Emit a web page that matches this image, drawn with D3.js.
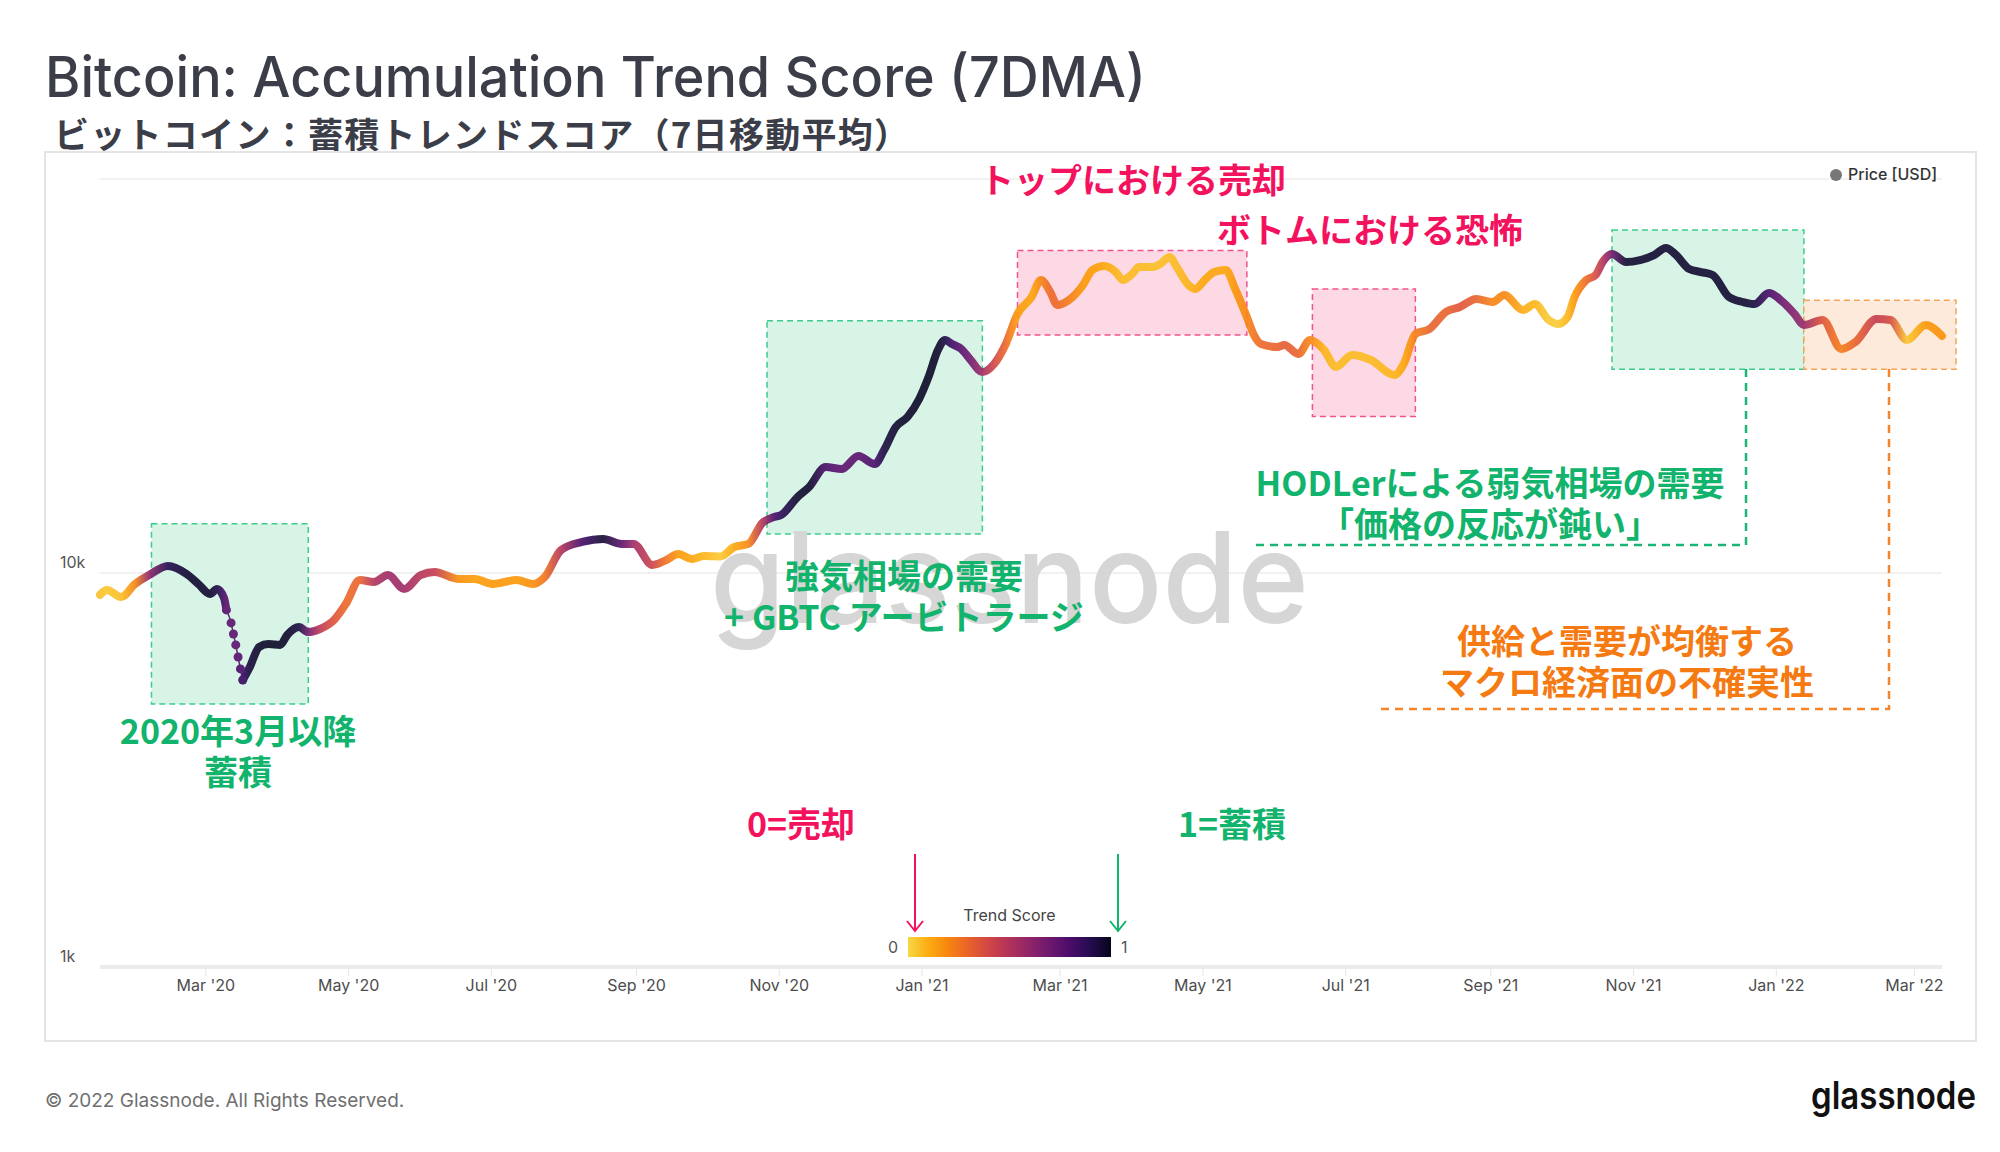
<!DOCTYPE html>
<html>
<head>
<meta charset="utf-8">
<script src="https://cdn.jsdelivr.net/npm/d3@7"></script>
<style>
  body { margin: 0; background: #fff; }
  svg { display: block; }
</style>
</head>
<body>
<script>
// 7DMA price and trend score
let dates = [
  "2020-01-16","2020-01-19","2020-01-25","2020-01-31","2020-02-06","2020-02-14","2020-02-22","2020-02-27",
  "2020-03-03","2020-03-06","2020-03-09","2020-03-10","2020-03-12","2020-03-13","2020-03-14","2020-03-15",
  "2020-03-16","2020-03-17","2020-03-20","2020-03-24","2020-03-28","2020-04-02","2020-04-05","2020-04-10",
  "2020-04-14","2020-04-19","2020-04-25","2020-04-30","2020-05-06","2020-05-12","2020-05-18","2020-05-25",
  "2020-06-01","2020-06-07","2020-06-17","2020-06-24","2020-07-02","2020-07-12","2020-07-19","2020-07-24",
  "2020-07-31","2020-08-09","2020-08-18","2020-08-26","2020-08-31","2020-09-08","2020-09-14","2020-09-19",
  "2020-09-25","2020-09-30","2020-10-07","2020-10-13","2020-10-19","2020-10-25","2020-10-30","2020-11-02",
  "2020-11-09","2020-11-14","2020-11-21","2020-11-28","2020-12-05","2020-12-12","2020-12-16","2020-12-21",
  "2020-12-26","2020-12-31","2021-01-04","2021-01-08","2021-01-11","2021-01-14","2021-01-18","2021-01-22",
  "2021-01-27","2021-02-01","2021-02-06","2021-02-11","2021-02-17","2021-02-21","2021-02-25","2021-02-28",
  "2021-03-05","2021-03-11","2021-03-15","2021-03-20","2021-03-25","2021-03-28","2021-04-01","2021-04-04",
  "2021-04-10","2021-04-13","2021-04-17","2021-04-20","2021-04-25","2021-04-28","2021-05-02","2021-05-06",
  "2021-05-11","2021-05-15","2021-05-20","2021-05-23","2021-05-26","2021-06-02","2021-06-05","2021-06-11",
  "2021-06-16","2021-06-22","2021-06-27","2021-07-04","2021-07-12","2021-07-22","2021-07-26","2021-07-31",
  "2021-08-06","2021-08-13","2021-08-19","2021-08-26","2021-09-02","2021-09-07","2021-09-15","2021-09-20",
  "2021-09-26","2021-09-30","2021-10-04","2021-10-07","2021-10-12","2021-10-16","2021-10-19","2021-10-23",
  "2021-10-29","2021-11-04","2021-11-10","2021-11-15","2021-11-19","2021-11-25","2021-11-30","2021-12-05",
  "2021-12-12","2021-12-18","2021-12-23","2021-12-29","2022-01-04","2022-01-09","2022-01-13","2022-01-21",
  "2022-01-29","2022-02-04","2022-02-13","2022-02-19","2022-02-26","2022-03-06","2022-03-13"
];
let prices = [
  8800, 9050, 8690, 9380, 9880, 10420, 9940, 9380,
  8850, 9110, 8640, 8060, 7470, 7000, 6570, 6120,
  5710, 5350, 5770, 6490, 6600, 6570, 6960, 7290,
  7080, 7210, 7600, 8340, 9600, 9490, 9880, 9110,
  9880, 10060, 9660, 9660, 9380, 9600, 9380, 9770,
  11440, 11990, 12200, 11850, 11850, 10480, 10790, 11170,
  10850, 11040, 11020, 11640, 11850, 13400, 13870, 14030,
  15590, 16530, 18580, 18370, 19820, 18910, 20520, 23480,
  24890, 27650, 31450, 36810, 39030, 38130, 37030, 34720,
  32370, 33920, 38130, 45430, 50170, 55410, 51660, 47890,
  49310, 53830, 58760, 60150, 58070, 55410, 57400, 59780,
  59780, 60850, 63390, 59780, 53830, 52580, 55410, 58070,
  58760, 52580, 44630, 40180, 38130, 37470, 37910, 35960,
  39030, 36810, 33330, 35760, 34720, 31810, 33920, 40420,
  41620, 45960, 47330, 49600, 48730, 50760, 46510, 48170,
  43860, 42850, 44630, 50170, 55410, 57060, 61550, 64490,
  61550, 62280, 64120, 66840, 64490, 59110, 58070, 57060,
  50170, 48730, 48170, 51360, 48730, 45430, 42600, 43860,
  37030, 38580, 44130, 43860, 39030, 42600, 39950
];
let scores = [
  0.05, 0.04, 0.06, 0.20, 0.60, 0.90, 0.96, 0.96,
  0.96, 0.92, 0.80, 0.76, 0.75, 0.75, 0.75, 0.76,
  0.80, 0.85, 0.94, 0.97, 0.98, 0.98, 0.97, 0.93,
  0.68, 0.47, 0.35, 0.28, 0.30, 0.50, 0.56, 0.56,
  0.48, 0.45, 0.18, 0.14, 0.15, 0.15, 0.18, 0.25,
  0.50, 0.82, 0.96, 0.75, 0.55, 0.42, 0.25, 0.15,
  0.12, 0.08, 0.04, 0.12, 0.20, 0.50, 0.80, 0.88,
  0.96, 0.97, 0.80, 0.75, 0.75, 0.80, 0.93, 0.96,
  0.97, 0.98, 0.98, 0.97, 0.93, 0.82, 0.75, 0.68,
  0.55, 0.40, 0.28, 0.14, 0.12, 0.20, 0.28, 0.28,
  0.22, 0.15, 0.14, 0.12, 0.08, 0.07, 0.07, 0.07,
  0.06, 0.06, 0.06, 0.07, 0.08, 0.10, 0.12, 0.12,
  0.12, 0.16, 0.20, 0.25, 0.28, 0.30, 0.32, 0.30,
  0.20, 0.08, 0.07, 0.07, 0.07, 0.08, 0.12, 0.22,
  0.30, 0.30, 0.35, 0.30, 0.20, 0.20, 0.10, 0.08,
  0.03, 0.03, 0.08, 0.15, 0.28, 0.38, 0.50, 0.70,
  0.96, 0.96, 0.96, 0.96, 0.96, 0.96, 0.96, 0.96,
  0.96, 0.96, 0.93, 0.80, 0.70, 0.62, 0.58, 0.35,
  0.22, 0.30, 0.45, 0.38, 0.04, 0.15, 0.17
];

let xTicks = ["2020-03-01","2020-05-01","2020-07-01","2020-09-01","2020-11-01","2021-01-01",
              "2021-03-01","2021-05-01","2021-07-01","2021-09-01","2021-11-01","2022-01-01","2022-03-01"];
let yGrid = [1000, 10000, 100000];
let yLabels = [1000, 10000];

// crash days drawn as separate dots
let crashFrom = "2020-03-10";
let crashTo = "2020-03-17";

// highlighted periods: date range and price range
let boxes = [
  {from: "2020-02-07", to: "2020-04-14", hi: 13330, lo: 4650, kind: "green"},
  {from: "2020-10-27", to: "2021-01-27", hi: 43650, lo: 12560, kind: "green"},
  {from: "2021-02-11", to: "2021-05-20", hi: 65800, lo: 40200, kind: "pink"},
  {from: "2021-06-17", to: "2021-07-31", hi: 52600, lo: 24960, kind: "pink"},
  {from: "2021-10-23", to: "2022-01-13", hi: 74200, lo: 32900, kind: "green"},
  {from: "2022-01-13", to: "2022-03-19", hi: 49200, lo: 32900, kind: "orange"}
];

let width = 2000;
let height = 1152;

let palette = {
  green: {fill: "#d8f4e7", stroke: "#3ccd8c", text: "#12b36c"},
  pink: {fill: "#fdd9e6", stroke: "#f2538c", text: "#f3125e"},
  orange: {fill: "#fdeadb", stroke: "#f6a45a", text: "#f57a12"}
};

let notes = [
  {lines: ["2020年3月以降", "蓄積"], x: 238, y: 732, kind: "green"},
  {lines: ["強気相場の需要", "+ GBTC アービトラージ"], x: 904, y: 577, kind: "green"},
  {lines: ["トップにおける売却"], x: 1133, y: 181, kind: "pink"},
  {lines: ["ボトムにおける恐怖"], x: 1370, y: 231, kind: "pink"},
  {lines: ["HODLerによる弱気相場の需要", "「価格の反応が鈍い」"], x: 1490, y: 484, kind: "green"},
  {lines: ["供給と需要が均衡する", "マクロ経済面の不確実性"], x: 1627, y: 642, kind: "orange"},
  {lines: ["0=売却"], x: 801, y: 825, kind: "pink"},
  {lines: ["1=蓄積"], x: 1232, y: 825, kind: "green"}
];

let parse = d3.utcParse("%Y-%m-%d");
let data = dates.map((d, i) => ({date: parse(d), price: prices[i], score: scores[i]}));

let x = d3.scaleUtc().domain([data[0].date, data[data.length - 1].date]).range([100, 1942]);
let y = d3.scaleLog().domain([1000, 100000]).range([967, 179]);
let color = (t) => d3.interpolateInferno(0.9 - 0.85 * t);

let svg = d3.select("body").append("svg").attr("width", width).attr("height", height);
let defs = svg.append("defs");

// titles
svg.append("text").attr("x", 45).attr("y", 97)
  .attr("font-family", "Inter, sans-serif").attr("font-size", 56).attr("font-weight", 500)
  .attr("fill", "#3b3e48").attr("textLength", 1101).attr("lengthAdjust", "spacingAndGlyphs")
  .text("Bitcoin: Accumulation Trend Score (7DMA)");
svg.append("text").attr("x", 54).attr("y", 148)
  .attr("font-family", "'Noto Sans CJK JP', sans-serif").attr("font-size", 35).attr("font-weight", 700)
  .attr("fill", "#3b3e48").attr("textLength", 855).attr("lengthAdjust", "spacing")
  .text("ビットコイン：蓄積トレンドスコア（7日移動平均）");

// chart frame
svg.append("rect").attr("x", 45).attr("y", 152).attr("width", 1931).attr("height", 889)
  .attr("fill", "none").attr("stroke", "#e4e4e4").attr("stroke-width", 2);

// grid
svg.selectAll(".grid").data(yGrid).enter().append("line")
  .attr("x1", x.range()[0]).attr("x2", x.range()[1])
  .attr("y1", (d) => y(d)).attr("y2", (d) => y(d))
  .attr("stroke", (d) => d === 1000 ? "#ebebeb" : "#f1f1f1")
  .attr("stroke-width", (d) => d === 1000 ? 4 : 2);

svg.selectAll(".ylab").data(yLabels).enter().append("text")
  .attr("x", 60).attr("y", (d) => y(d) - 5)
  .attr("font-family", "Inter, sans-serif").attr("font-size", 16).attr("fill", "#555")
  .text((d) => d3.format("~s")(d));

let xAxis = svg.append("g").attr("transform", "translate(0,969)")
  .call(d3.axisBottom(x).tickValues(xTicks.map(parse)).tickFormat(d3.utcFormat("%b '%y")).tickSize(7).tickPadding(4));
xAxis.select(".domain").remove();
xAxis.selectAll("line").attr("stroke", "#e6e6e6");
xAxis.selectAll("text").attr("font-family", "Inter, sans-serif").attr("font-size", 16).attr("fill", "#4d4d4d");

// highlight boxes
svg.selectAll(".box").data(boxes).enter().append("rect")
  .attr("x", (d) => x(parse(d.from)))
  .attr("y", (d) => y(d.hi))
  .attr("width", (d) => x(parse(d.to)) - x(parse(d.from)))
  .attr("height", (d) => y(d.lo) - y(d.hi))
  .attr("fill", (d) => palette[d.kind].fill)
  .attr("stroke", (d) => palette[d.kind].stroke)
  .attr("stroke-width", 1.5)
  .attr("stroke-dasharray", "6 4");

// connectors from the last two boxes to their notes
svg.append("path").attr("d", "M1746,369 V545 H1252")
  .attr("fill", "none").attr("stroke", "#19b574").attr("stroke-width", 2.5).attr("stroke-dasharray", "8 6");
svg.append("path").attr("d", "M1889,369 V709 H1378")
  .attr("fill", "none").attr("stroke", "#f5842a").attr("stroke-width", 2.5).attr("stroke-dasharray", "8 6");

// watermark
svg.append("text").attr("x", 710).attr("y", 623)
  .attr("font-family", "Inter, sans-serif").attr("font-size", 127).attr("font-weight", 500)
  .attr("fill", "#d6d6d6").attr("textLength", 599).attr("lengthAdjust", "spacingAndGlyphs")
  .text("glassnode");

// colour along the line follows the date axis
let grad = defs.append("linearGradient").attr("id", "lineGrad")
  .attr("gradientUnits", "userSpaceOnUse")
  .attr("x1", x.range()[0]).attr("x2", x.range()[1]).attr("y1", 0).attr("y2", 0);
grad.selectAll("stop").data(data).enter().append("stop")
  .attr("offset", (d) => (x(d.date) - x.range()[0]) / (x.range()[1] - x.range()[0]))
  .attr("stop-color", (d) => color(d.score));

let line = d3.line().x((d) => x(d.date)).y((d) => y(d.price)).curve(d3.curveMonotoneX);
let c0 = parse(crashFrom), c1 = parse(crashTo);
let before = data.filter((d) => d.date <= c0);
let crash = data.filter((d) => d.date >= c0 && d.date <= c1);
let after = data.filter((d) => d.date >= c1);

let priceLayer = svg.append("g").attr("opacity", 0.9);
[before, after].forEach((part) => {
  priceLayer.append("path").datum(part).attr("d", line)
    .attr("fill", "none").attr("stroke", "url(#lineGrad)").attr("stroke-width", 8)
    .attr("stroke-linecap", "round").attr("stroke-linejoin", "round");
});
priceLayer.append("path").datum(crash).attr("d", line)
  .attr("fill", "none").attr("stroke", "url(#lineGrad)").attr("stroke-width", 1.5);
priceLayer.selectAll(".crash").data(crash).enter().append("circle")
  .attr("cx", (d) => x(d.date)).attr("cy", (d) => y(d.price)).attr("r", 4.5)
  .attr("fill", (d) => color(d.score));

// notes
notes.forEach((n) => {
  let t = svg.append("text").attr("text-anchor", "middle")
    .attr("font-family", "'Noto Sans CJK JP', sans-serif").attr("font-size", 34).attr("font-weight", 700)
    .attr("fill", palette[n.kind].text);
  n.lines.forEach((s, i) => {
    t.append("tspan").attr("x", n.x).attr("y", n.y + 12 + i * 41).text(s);
  });
});

// price legend
svg.append("circle").attr("cx", 1836).attr("cy", 175).attr("r", 6).attr("fill", "#777");
svg.append("text").attr("x", 1848).attr("y", 180)
  .attr("font-family", "Inter, sans-serif").attr("font-size", 16).attr("font-weight", 500)
  .attr("fill", "#333").text("Price [USD]");

// trend score colour bar
let legendScale = d3.scaleLinear().domain([0, 1]).range([908, 1111]);
let lg = defs.append("linearGradient").attr("id", "legendGrad");
lg.selectAll("stop").data(d3.range(0, 1.0001, 0.1)).enter().append("stop")
  .attr("offset", (d) => d).attr("stop-color", (d) => color(d));
svg.append("rect").attr("x", legendScale(0)).attr("y", 937)
  .attr("width", legendScale(1) - legendScale(0)).attr("height", 20).attr("fill", "url(#legendGrad)");
svg.append("text").attr("x", (legendScale(0) + legendScale(1)) / 2).attr("y", 921).attr("text-anchor", "middle")
  .attr("font-family", "Inter, sans-serif").attr("font-size", 16).attr("fill", "#444").text("Trend Score");
svg.append("text").attr("x", legendScale(0) - 10).attr("y", 953).attr("text-anchor", "end")
  .attr("font-family", "Inter, sans-serif").attr("font-size", 16).attr("fill", "#555").text("0");
svg.append("text").attr("x", legendScale(1) + 10).attr("y", 953)
  .attr("font-family", "Inter, sans-serif").attr("font-size", 16).attr("fill", "#555").text("1");

// arrows pointing at the ends of the bar
[{v: 0, c: "#f3125e"}, {v: 1, c: "#12b36c"}].forEach((a) => {
  let ax = legendScale(a.v) + 7;
  svg.append("line").attr("x1", ax).attr("x2", ax).attr("y1", 854).attr("y2", 931)
    .attr("stroke", a.c).attr("stroke-width", 2);
  svg.append("path").attr("d", `M${ax - 8},921 L${ax},931 L${ax + 8},921`)
    .attr("fill", "none").attr("stroke", a.c).attr("stroke-width", 2);
});

// footer
svg.append("text").attr("x", 45).attr("y", 1107)
  .attr("font-family", "Inter, sans-serif").attr("font-size", 19).attr("fill", "#6f6f6f")
  .text("© 2022 Glassnode. All Rights Reserved.");
svg.append("text").attr("x", 1811).attr("y", 1109)
  .attr("font-family", "Inter, sans-serif").attr("font-size", 38).attr("font-weight", 600)
  .attr("fill", "#111").attr("textLength", 165).attr("lengthAdjust", "spacingAndGlyphs")
  .text("glassnode");
</script>
</body>
</html>
